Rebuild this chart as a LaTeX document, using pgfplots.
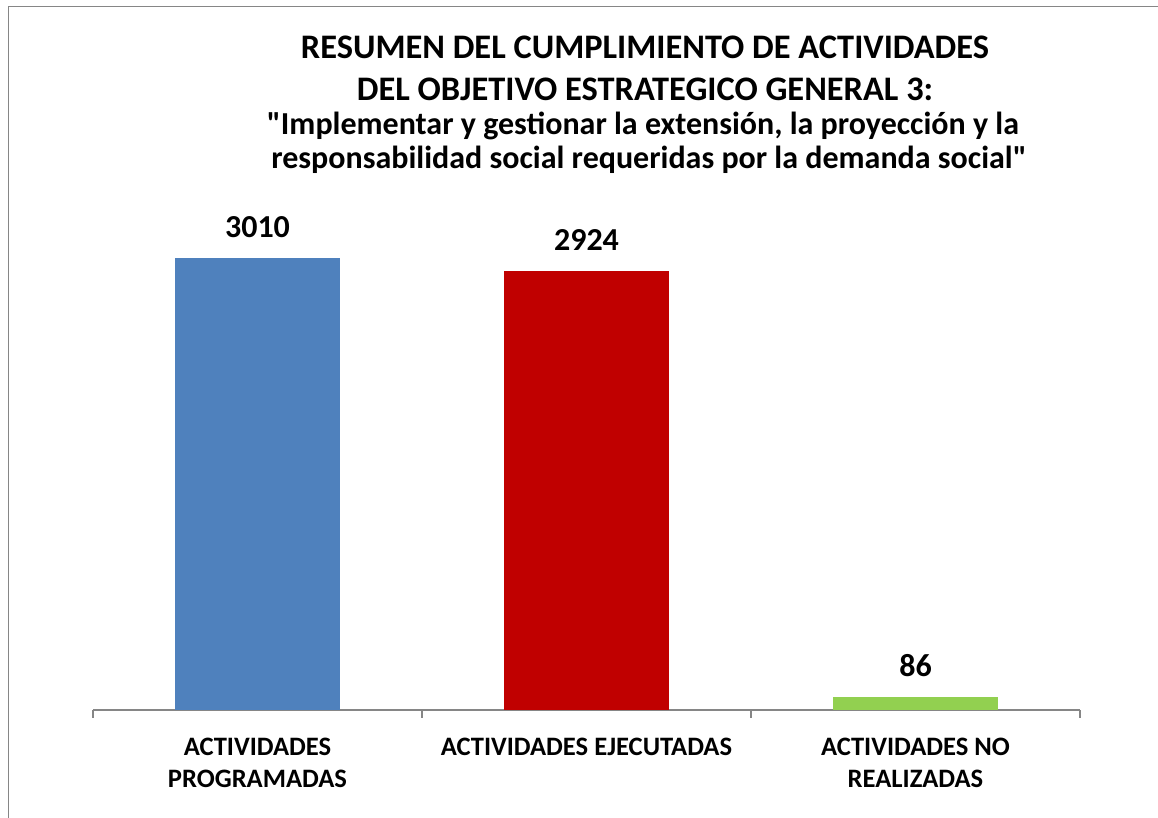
\documentclass[border=0pt]{standalone}
\usepackage{pgfplots}
\pgfplotsset{compat=1.18}
\usepackage{fontspec}
\setmainfont{Carlito}[Ligatures=TeXOff]
\definecolor{cblue}{RGB}{79,129,189}
\definecolor{cred}{RGB}{192,0,0}
\definecolor{cgreen}{RGB}{146,208,80}
\definecolor{cgray}{RGB}{134,134,134}
\begin{document}
\begin{tikzpicture}
\useasboundingbox (0,0) rectangle (579pt,409pt);
\draw[cgray, line width=0.6pt] (4.2pt,0) -- (4.2pt,405.9pt) -- (579pt,405.9pt);
\node[anchor=base, font=\fontsize{17.2}{20}\selectfont\bfseries, inner sep=0pt] at (322.5pt,379.9pt) {RESUMEN DEL CUMPLIMIENTO DE ACTIVIDADES};
\node[anchor=base, font=\fontsize{17.2}{20}\selectfont\bfseries, inner sep=0pt] at (322.5pt,358.6pt) {DEL OBJETIVO ESTRATEGICO GENERAL 3:};
\node[anchor=base, font=\fontsize{16}{19}\selectfont\bfseries, inner sep=0pt] at (321.5pt,341.5pt) {"Implementar y gestionar la extensión, la proyección y la};
\node[anchor=base, font=\fontsize{16}{19}\selectfont\bfseries, inner sep=0pt] at (324.5pt,324.5pt) {responsabilidad social requeridas por la demanda social"};
\begin{axis}[
  at={(46.5pt,54pt)}, anchor=south west,
  scale only axis, width=493.5pt, height=263pt,
  xmin=0.5, xmax=3.5, ymin=0, ymax=3500,
  axis x line*=bottom, axis y line=none,
  axis line style={cgray, line width=0.6pt},
  xtick={1,2,3},
  xticklabels={{ACTIVIDADES\\PROGRAMADAS},{ACTIVIDADES EJECUTADAS},{ACTIVIDADES NO\\REALIZADAS}},
  major tick length=0pt,
  minor xtick={0.5,1.5,2.5,3.5},
  minor tick length=4pt,
  tick align=outside,
  tick style={cgray, line width=0.6pt},
  xticklabel style={align=center, anchor=north, inner sep=0pt, yshift=-14pt,
    font=\fontsize{13.3}{16}\selectfont\bfseries},
  ybar, bar width=0.5, bar shift=0pt,
  /pgf/number format/assume math mode=true,
  /pgf/number format/1000 sep={},
  nodes near coords,
  nodes near coords style={anchor=south, inner sep=0pt, yshift=10pt,
    font=\fontsize{16}{19}\selectfont\bfseries, text=black},
  clip=false,
]
\addplot[draw=none, fill=cblue] coordinates {(1,3010)};
\addplot[draw=none, fill=cred] coordinates {(2,2924)};
\addplot[draw=none, fill=cgreen] coordinates {(3,86)};
\end{axis}
\end{tikzpicture}
\end{document}
